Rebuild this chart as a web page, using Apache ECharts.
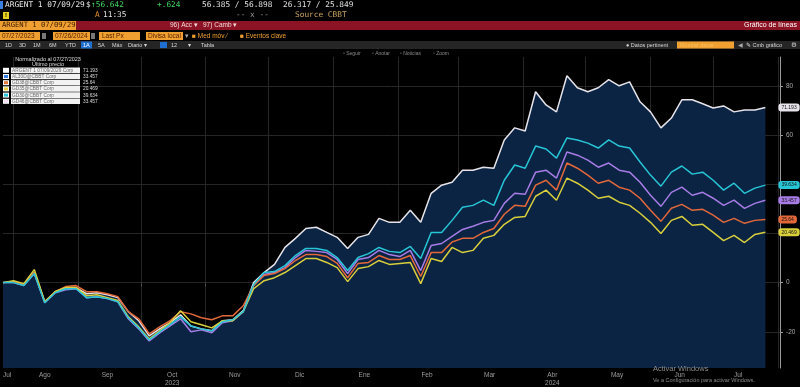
<!DOCTYPE html>
<html><head><meta charset="utf-8">
<script src="https://cdn.jsdelivr.net/npm/echarts@6/dist/echarts.min.js"></script>
<style>html,body{margin:0;padding:0;background:#000;overflow:hidden}#c{width:800px;height:387px}</style>
</head><body><div id="c"></div>
<script>
// ---------- DATA ----------
const dates = ['2023-07-27','2023-08-01','2023-08-06','2023-08-11','2023-08-16','2023-08-21','2023-08-26','2023-08-31','2023-09-05','2023-09-10',
'2023-09-15','2023-09-20','2023-09-25','2023-09-30','2023-10-05','2023-10-10','2023-10-15','2023-10-20','2023-10-25','2023-10-30',
'2023-11-04','2023-11-09','2023-11-14','2023-11-19','2023-11-24','2023-11-29','2023-12-04','2023-12-09','2023-12-14','2023-12-19',
'2023-12-24','2023-12-29','2024-01-03','2024-01-08','2024-01-13','2024-01-18','2024-01-23','2024-01-28','2024-02-02','2024-02-07',
'2024-02-12','2024-02-17','2024-02-22','2024-02-27','2024-03-03','2024-03-08','2024-03-13','2024-03-18','2024-03-23','2024-03-28',
'2024-04-02','2024-04-07','2024-04-12','2024-04-17','2024-04-22','2024-04-27','2024-05-02','2024-05-07','2024-05-12','2024-05-17',
'2024-05-22','2024-05-27','2024-06-01','2024-06-06','2024-06-11','2024-06-16','2024-06-21','2024-06-26','2024-07-01','2024-07-06',
'2024-07-11','2024-07-16','2024-07-21','2024-07-26'];

const argent = [0,0.4,-0.8,4.1,-7.8,-3.7,-2.0,-2.0,-4.5,-4.1,
-4.9,-6.1,-11.8,-15.5,-21.6,-18.8,-16.3,-13.1,-17.6,-18.8,
-19.6,-15.5,-15.1,-11.4,0,4.1,7.4,14.3,18.0,22.0,
22.5,20.4,18.4,13.9,18.4,19.6,26.1,24.5,24.5,29.4,
24.5,36.3,39.6,40.8,45.7,45.7,46.9,46.5,58.0,62.9,
61.6,77.6,72.2,69.4,84.1,79.2,77.6,79.2,82.5,80.0,
81.6,73.5,69.4,62.9,66.9,74.3,74.3,72.7,71.0,71.8,
69.4,70.2,70.2,71.193];

const cyanBond = [0,0,-1.2,3.7,-8.2,-4.1,-2.5,-2.5,-6.1,-5.7,
-6.5,-7.8,-14.3,-18.4,-23.3,-20.0,-17.1,-13.9,-17.6,-18.8,
-19.6,-15.9,-15.1,-11.8,-0.8,4.1,4.5,6.9,11.0,13.9,
13.9,13.1,10.2,4.9,10.2,11.8,14.3,12.7,12.2,14.7,
9.8,20.4,20.4,25.3,30.6,31.4,33.5,31.4,41.6,47.8,
46.5,55.5,54.3,50.6,58.8,58.0,56.7,54.7,58.0,55.5,
54.7,49.0,43.7,39.2,44.9,47.4,44.1,44.9,41.6,37.6,
40.4,36.3,38.4,39.634];

const purpleBond = [0,0,-1.2,3.7,-8.2,-4.1,-2.9,-2.5,-6.1,-5.7,
-6.5,-7.8,-14.7,-18.8,-23.7,-20.4,-17.6,-14.7,-20.0,-19.2,
-20.4,-16.3,-15.5,-11.8,-1.2,3.3,4.1,6.1,10.2,13.1,
12.7,12.2,9.4,3.7,9.4,10.2,13.1,11.4,10.6,13.1,
4.9,15.1,15.9,18.8,21.6,22.9,24.5,25.3,32.2,36.3,
35.9,44.9,45.7,42.5,53.1,51.8,49.8,46.9,48.6,45.7,
44.9,40.8,35.5,31.0,36.7,38.8,35.5,36.7,34.3,31.4,
33.5,30.2,32.2,33.457];

const orangeBond = [0,0.4,-0.8,4.1,-7.8,-3.7,-1.6,-1.2,-3.7,-3.7,
-4.5,-5.7,-11.8,-14.7,-20.8,-18.0,-15.5,-11.8,-12.7,-14.3,
-15.1,-13.5,-13.5,-9.4,-1.2,2.9,3.7,5.7,9.0,11.4,
11.4,10.6,7.8,2.0,7.8,8.2,11.0,9.4,9.4,11.0,
2.5,12.2,12.2,16.5,18.0,18.0,20.4,22.0,27.8,31.4,
31.0,39.6,41.6,37.6,48.6,46.5,43.7,40.4,41.6,38.8,
37.6,34.3,29.4,24.9,30.2,31.8,29.4,29.8,27.4,24.5,
26.1,24.1,25.3,25.64];

const yellowBond = [0,0.8,-0.4,5.3,-7.8,-3.7,-2.0,-2.0,-5.3,-4.9,
-6.1,-7.3,-13.9,-18.0,-22.9,-19.6,-16.3,-11.4,-15.9,-17.1,
-18.4,-15.5,-15.5,-11.8,-2.5,0.8,2.0,4.1,6.9,9.8,
9.8,8.2,6.1,0.4,5.7,6.5,9.0,7.4,7.8,8.2,
-0.4,9.8,8.6,14.3,12.2,13.1,18.0,19.2,23.7,26.5,
26.9,35.1,37.6,33.5,42.5,40.4,37.6,34.3,35.1,32.7,
31.4,28.2,24.5,20.0,25.3,26.9,23.3,23.7,20.4,17.1,
19.2,16.3,19.6,20.469];

const seriesNames  = ['ARGENT 1 07/09/2029 Corp','GD46@CBBT Corp','GD38@CBBT Corp','GD35@CBBT Corp','GD30@CBBT Corp'];
const seriesValues = [argent, purpleBond, orangeBond, yellowBond, cyanBond];
const seriesColors = ['#e6e4ea','#a77ce6','#e2683a','#d9cf3c','#27c6d6'];

// legend box (Bloomberg style)
const legendNames  = ['ARGENT 1 07/09/2029 Corp','AL30D@CBBT Corp','GD38@CBBT Corp','GD35@CBBT Corp','GD30@CBBT Corp','GD46@CBBT Corp'];
const legendColors = ['#ffffff','#3b7fe0','#e2783a','#e8d040','#27c6d6','#efe0f4'];
const legendValues = ['71.193','33.457','25.64','20.469','39.634','33.457'];

const monthStarts = ['2023-08-01','2023-09-01','2023-10-01','2023-11-01','2023-12-01','2024-01-01','2024-02-01','2024-03-01','2024-04-01','2024-05-01','2024-06-01','2024-07-01','2024-08-01'];
const monthLabelDates = ['2023-07-29','2023-08-16','2023-09-15','2023-10-16','2023-11-15','2023-12-16','2024-01-16','2024-02-15','2024-03-16','2024-04-15','2024-05-16','2024-06-15','2024-07-13'];
const monthLabels = ['Jul','Ago','Sep','Oct\n2023','Nov','Dic','Ene','Feb','Mar','Abr\n2024','May','Jun','Jul'];
const yTickLabels = [-20,0,20,40,60,80];

// ---------- CHART ----------
const chart = echarts.init(document.getElementById('c'), null, {renderer:'canvas'});
const ts = s => Date.parse(s + 'T00:00:00Z');
const labelTs = monthLabelDates.map(ts);

const G = [];
const MONO = 'DejaVu Sans Mono';
const SANS = 'Liberation Sans';
function R(x,y,w,h,fill,z){G.push({type:'rect',silent:true,z:z||50,shape:{x,y,width:w,height:h},style:{fill}});}
function T(x,y,t,fill,size,font,align,weight){G.push({type:'text',silent:true,z:90,x,y,style:{text:t,fill,font:(weight||'normal')+' '+size+'px "'+(font||SANS)+'"',align:align||'left',verticalAlign:'middle'}});}

// row 1
R(0,1,3,8,'#3b7fe0');
T(5,5,'ARGENT 1 07/09/29','#e8e8e8',7.8,MONO);
T(86,5,'$','#e8e8e8',7.8,MONO);
T(91,5,'↑56.642','#3bd35c',7.8,MONO);
T(157,5,'+.624','#3bd35c',7.8,MONO);
T(202,5,'56.385 / 56.898','#e0e0e0',7.8,MONO);
T(283,5,'26.317 / 25.849','#e0e0e0',7.8,MONO);
// row 2
R(3,12,6,7,'#e6cf1e');
T(6,15.5,'!','#000',6,SANS,'center','bold');
T(95,15,'A','#e89030',7.8,MONO);
T(103,15,'11:35','#e0e0e0',7.8,MONO);
T(236,15,'-- x --','#9a9a9a',7.8,MONO);
T(295,15,'Source CBBT','#c9a45e',7.8,MONO);
// row 3
R(0,21,800,9,'#8c1323');
R(0,21,76,9,'#f0a030');
T(2,25.5,'ARGENT 1 07/09/29','#3a1a00',7.2,MONO);
T(170,25.5,'96) Acc ▾','#f2dada',6.5);
T(203,25.5,'97) Camb ▾','#f2dada',6.5);
T(797,25.5,'Gráfico de líneas','#ffffff',7,SANS,'right');
// row 4
R(0,32,40,8,'#f0a030'); T(2,36,'07/27/2023','#5a2200',6.5);
R(42,33,4,6,'#777');
R(53,32,37,8,'#f0a030'); T(55,36,'07/26/2024','#5a2200',6.5);
R(91,33,4,6,'#777');
R(99,32,41,8,'#f0a030'); T(102,36,'Last Px','#5a2200',6.5);
R(146,32,37,8,'#f0a030'); T(148,36,'Divisa local','#5a2200',6.5);
T(185,36,'▾','#aaa',6.5);
T(192,36,'■ Med móv ⁄','#f0a030',6.5);
T(240,36,'■ Eventos clave','#f0a030',6.5);
// row 5
R(0,41,800,8,'#252525');
[['1D',5],['3D',19],['1M',33],['6M',49],['YTD',65],['5A',98],['Máx',112],['Diario ▾',128],['12',171],['▾',188],['Tabla',201]].forEach(a=>T(a[1],45,a[0],'#d8d8d8',5.5));
R(81,41.5,11,7,'#1f6fd0'); T(83,45,'1A','#fff',5.5);
R(160,42,7,6,'#1f6fd0');
T(626,45,'● Datos pertinent','#d8d8d8',5.5);
R(677,41.5,57,7,'#f0a030'); T(680,45,'Mostrar datos','#f6c060',5.5);
T(738,45,'◀','#aaa',5.5);
T(746,45,'✎ Cmb gráfico','#d8d8d8',5.5);
T(794,45,'⚙','#d8d8d8',6.5,'DejaVu Sans','center');
// row 6
[['▫ Seguir',343],['▫ Anotar',372],['▫ Noticias',400],['▫ Zoom',433]].forEach(a=>T(a[1],54,a[0],'#8a8a8a',5));

// legend box
T(48,59.5,'Normalizado al 07/27/2023','#dcdcdc',5.5,SANS,'center');
T(48,64.5,'Último precio','#dcdcdc',5.5,SANS,'center');
legendNames.forEach((n,i)=>{
  const y = 67.5 + i*6.2;
  R(3,y+0.3,6,5,'#ffffff',70);
  R(4,y+1.3,4,3,legendColors[i],71);
  R(11,y,69,5.6,'#f2f2f2',70);
  T(12,y+2.9,n,'#6a6a6a',4.8);
  T(83,y+2.9,legendValues[i],'#dcdcdc',4.8);
});

// watermark
T(653,369,'Activar Windows','#8a8a8a',7.5);
T(653,380,'Ve a Configuración para activar Windows.','#8a8a8a',5.5);

const series = seriesValues.map((vals,i)=>({
  name: seriesNames[i],
  type:'line',
  data: dates.map((d,k)=>[ts(d), vals[k]]),
  showSymbol:false,
  symbol:'none',
  smooth:false,
  z: i===0 ? 2 : 3+i,
  lineStyle:{color:seriesColors[i], width:1.5},
  itemStyle:{color:seriesColors[i]},
  areaStyle: i===0 ? {color:'#0b2443', opacity:1, origin:'start'} : undefined,
  endLabel:{
    show:true, distance:13,
    formatter: p => String(p.value[1]),
    backgroundColor: seriesColors[i], color:'#111', fontSize:5, fontFamily:SANS,
    padding:[1.5,3,1.5,3], borderRadius:3
  },
  emphasis:{disabled:true}
}));

chart.setOption({
  backgroundColor:'#000',
  animation:false,
  grid:{left:0,right:20,top:57,bottom:19},
  xAxis:{
    type:'value',
    min: ts('2023-07-27'), max: ts('2024-08-02'),
    axisLine:{show:false},
    axisTick:{show:true, customValues: monthStarts.map(ts), length:4, lineStyle:{color:'#444'}},
    splitLine:{show:true, lineStyle:{color:'#262626', width:1}},
    axisLabel:{
      customValues: labelTs, color:'#9c9c9c', fontSize:6.5, fontFamily:SANS, margin:3, lineHeight:8,
      formatter: v => { const k = labelTs.indexOf(v); return k>=0 ? monthLabels[k] : ''; }
    }
  },
  yAxis:{
    type:'value', position:'right',
    min:-34.7, max:91.7,
    axisLine:{show:true, lineStyle:{color:'#9a9a9a', width:1}},
    axisTick:{show:true, customValues: yTickLabels, length:3, lineStyle:{color:'#9a9a9a'}},
    splitLine:{show:true, lineStyle:{color:'#262626'}},
    axisLabel:{customValues: yTickLabels, color:'#a8a8a8', fontSize:6.5, fontFamily:SANS, margin:6}
  },
  graphic: G,
  series
});
</script>
</body></html>
